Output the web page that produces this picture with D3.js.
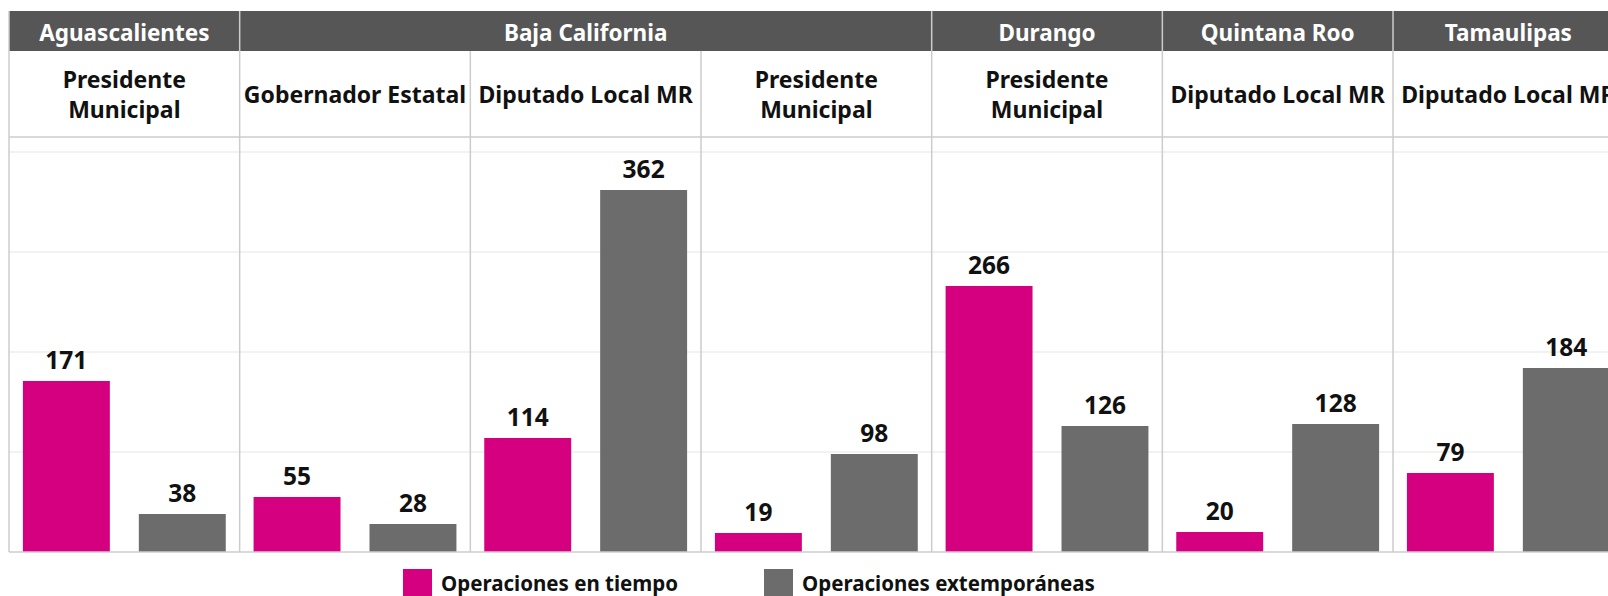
<!DOCTYPE html>
<html>
<head>
<meta charset="utf-8">
<script src="https://cdn.jsdelivr.net/npm/d3@7"></script>
<style>
  html, body { margin: 0; padding: 0; background: #fff; overflow: hidden; }
  svg { display: block; font-family: "Noto Sans", "Open Sans", sans-serif; }
</style>
</head>
<body>
<div id="chart"></div>
<script>
// states and how many cargo panels each one spans
const states = ["Aguascalientes", "Baja California", "Durango", "Quintana Roo", "Tamaulipas"];
const stateSpans = [1, 3, 1, 1, 1];
const cargos = ["Presidente Municipal", "Gobernador Estatal", "Diputado Local MR", "Presidente Municipal",
  "Presidente Municipal", "Diputado Local MR", "Diputado Local MR"];
const enTiempo = [171, 55, 114, 19, 266, 20, 79];
const extemporaneas = [38, 28, 362, 98, 126, 128, 184];
const seriesNames = ["Operaciones en tiempo", "Operaciones extemporáneas"];
const gridTicks = [100, 200, 300, 400];

const W = 1608, H = 596;
const left = 9, panelW = 230.67;
const bandTop = 11, bandBottom = 51, headBottom = 137, plotBottom = 552;
const pink = "#d5007f", grey = "#6c6c6c", lineCol = "#cccccc";

const svg = d3.select("#chart").append("svg")
  .attr("width", W)
  .attr("height", H);

const panels = d3.scaleBand()
  .domain(d3.range(cargos.length))
  .range([left, left + panelW * cargos.length])
  .padding(0);

const inner = d3.scaleBand()
  .domain([0, 1])
  .range([0, panels.bandwidth()])
  .paddingInner(0.25)
  .paddingOuter(0.12);

const y = d3.scaleLinear()
  .domain([0, plotBottom - headBottom])
  .range([plotBottom, headBottom]);

const color = d3.scaleOrdinal().domain([0, 1]).range([pink, grey]);

// gridlines
svg.append("g")
  .selectAll("line")
  .data(gridTicks)
  .join("line")
  .attr("x1", left)
  .attr("x2", W + 20)
  .attr("y1", d => y(d))
  .attr("y2", d => y(d))
  .attr("stroke", "#eeeeee")
  .attr("stroke-width", 1.5);

// dark state band
svg.append("rect")
  .attr("x", left)
  .attr("y", bandTop)
  .attr("width", W)
  .attr("height", bandBottom - bandTop)
  .attr("fill", "#565656");

let startIdx = [];
stateSpans.reduce((acc, s) => { startIdx.push(acc); return acc + s; }, 0);

svg.append("g")
  .selectAll("text")
  .data(states)
  .join("text")
  .attr("x", (d, i) => panels(startIdx[i]) + panelW * stateSpans[i] / 2)
  .attr("y", 41)
  .attr("text-anchor", "middle")
  .attr("fill", "#fff")
  .attr("font-weight", 700)
  .attr("font-size", 22.5)
  .text(d => d);

// cargo labels, wrapped if needed
const cargoText = svg.append("g")
  .selectAll("text")
  .data(cargos)
  .join("text")
  .attr("text-anchor", "middle")
  .attr("font-weight", 700)
  .attr("font-size", 23)
  .attr("fill", "#111");

cargoText.each(function(d, i) {
  const t = d3.select(this);
  const cx = panels(i) + panelW / 2;
  t.text(d);
  let lines = [d];
  if (this.getComputedTextLength() > panelW - 6) lines = d.split(" ");
  t.text(null);
  const lh = 30;
  const y0 = 103 - (lines.length - 1) * lh / 2;
  lines.forEach((l, k) => {
    t.append("tspan").attr("x", cx).attr("y", y0 + k * lh).text(l);
  });
});

// bars
const rows = cargos.map((c, i) => [enTiempo[i], extemporaneas[i]]);

const panelG = svg.append("g")
  .selectAll("g")
  .data(rows)
  .join("g")
  .attr("transform", (d, i) => `translate(${panels(i)},0)`);

panelG.selectAll("rect")
  .data(d => d)
  .join("rect")
  .attr("x", (d, k) => inner(k))
  .attr("y", d => y(d))
  .attr("width", inner.bandwidth())
  .attr("height", d => y(0) - y(d))
  .attr("fill", (d, k) => color(k));

panelG.selectAll("text")
  .data(d => d)
  .join("text")
  .attr("x", (d, k) => inner(k) + inner.bandwidth() / 2)
  .attr("y", d => y(d) - 12)
  .attr("text-anchor", "middle")
  .attr("font-weight", 700)
  .attr("font-size", 24.5)
  .attr("fill", "#111")
  .text(d => d);

// frame lines
svg.append("line")
  .attr("x1", left).attr("x2", W + 20)
  .attr("y1", headBottom).attr("y2", headBottom)
  .attr("stroke", lineCol).attr("stroke-width", 1.5);
svg.append("line")
  .attr("x1", left).attr("x2", W + 20)
  .attr("y1", plotBottom).attr("y2", plotBottom)
  .attr("stroke", lineCol).attr("stroke-width", 1.5);
svg.append("line")
  .attr("x1", left).attr("x2", left)
  .attr("y1", bandTop).attr("y2", plotBottom)
  .attr("stroke", lineCol).attr("stroke-width", 1.5);

svg.append("g")
  .selectAll("line")
  .data(d3.range(1, cargos.length + 1))
  .join("line")
  .attr("x1", i => left + panelW * i)
  .attr("x2", i => left + panelW * i)
  .attr("y1", i => startIdx.includes(i) ? bandTop : bandBottom)
  .attr("y2", plotBottom)
  .attr("stroke", lineCol)
  .attr("stroke-width", 1.5);

// legend
const legendX = [403, 764];
const lg = svg.append("g")
  .selectAll("g")
  .data(seriesNames)
  .join("g")
  .attr("transform", (d, i) => `translate(${legendX[i]},569)`);
lg.append("rect")
  .attr("width", 29)
  .attr("height", 29)
  .attr("fill", (d, i) => color(i));
lg.append("text")
  .attr("x", 38)
  .attr("y", 21.5)
  .attr("font-weight", 700)
  .attr("font-size", 20.5)
  .attr("fill", "#111")
  .text(d => d);
</script>
</body>
</html>
